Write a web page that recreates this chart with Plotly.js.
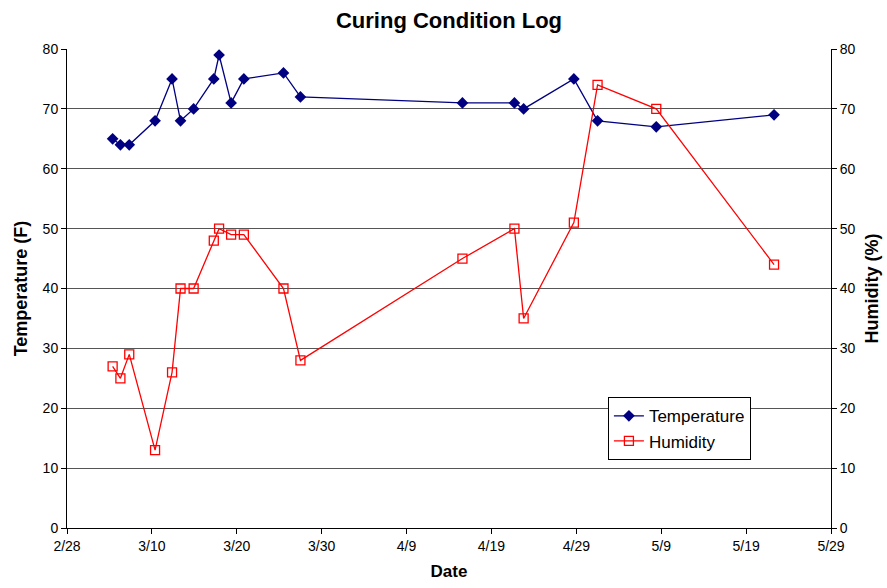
<!DOCTYPE html>
<html>
<head>
<meta charset="utf-8">
<script src="https://cdn.plot.ly/plotly-3.0.1.min.js"></script>
<style>html,body{margin:0;padding:0;background:#fff;}#chart{width:887px;height:588px;}</style>
</head>
<body>
<div id="chart"></div>
<script>
// Reading dates (with approximate time of day)
var dates = [
  '2007-03-05 09:00','2007-03-06 07:00','2007-03-07 08:00','2007-03-10 09:00',
  '2007-03-12 09:00','2007-03-13 09:00','2007-03-14 22:00','2007-03-17 07:00',
  '2007-03-17 22:00','2007-03-19 08:00','2007-03-20 20:00','2007-03-25 12:00',
  '2007-03-27 12:00','2007-04-15 14:00','2007-04-21 17:00','2007-04-22 19:00',
  '2007-04-28 17:00','2007-05-01 12:00','2007-05-08 10:00','2007-05-22 07:00'
];
var temperature = [65,64,64,68,75,68,70,75,79,71,75,76,72,71,71,70,75,68,67,69];
var humidity    = [27,25,29,13,26,40,40,48,50,49,49,40,28,45,50,35,51,74,70,44];

var tickDates = ['2007-02-28','2007-03-10','2007-03-20','2007-03-30','2007-04-09',
                 '2007-04-19','2007-04-29','2007-05-09','2007-05-19','2007-05-29'];
var tickLabels = ['2/28','3/10','3/20','3/30','4/9','4/19','4/29','5/9','5/19','5/29'];

var font = 'Arial, "Liberation Sans", sans-serif';

var traces = [
  {
    x: dates, y: temperature, name: 'Temperature', type: 'scatter', mode: 'lines+markers',
    line: {color: '#000080', width: 1.3},
    marker: {symbol: 'diamond', size: 9, color: '#000080', line: {color: '#000080', width: 0}},
    yaxis: 'y'
  },
  {
    x: dates, y: humidity, name: 'Humidity', type: 'scatter', mode: 'lines+markers',
    line: {color: '#ff0000', width: 1.3},
    marker: {symbol: 'square-open', size: 9, color: '#ff0000', line: {color: '#ff0000', width: 1.3}},
    yaxis: 'y2'
  }
];

var layout = {
  width: 887, height: 588,
  margin: {l: 67, r: 56, t: 49, b: 60},
  paper_bgcolor: '#fff', plot_bgcolor: '#fff',
  font: {family: font, size: 14, color: '#000'},
  title: {text: '<b>Curing Condition Log</b>', font: {family: font, size: 22, color: '#000'},
          x: 0.5, xref: 'paper', y: 0.966, yanchor: 'middle'},
  xaxis: {
    type: 'date', range: ['2007-02-28', '2007-05-29'],
    tickmode: 'array', tickvals: tickDates, ticktext: tickLabels,
    ticks: 'outside', ticklen: 5, tickcolor: '#000', tickwidth: 1,
    showline: true, linecolor: '#000', linewidth: 1, showgrid: false, zeroline: false,
    tickfont: {family: font, size: 14},
    title: {text: '<b>Date</b>', font: {family: font, size: 17}, standoff: 12}
  },
  yaxis: {
    range: [0, 80], dtick: 10, tick0: 0,
    ticks: 'outside', ticklen: 5, tickcolor: '#000',
    showline: true, linecolor: '#000', linewidth: 1,
    showgrid: true, gridcolor: '#555', gridwidth: 1, zeroline: false,
    tickfont: {family: font, size: 14},
    title: {text: '<b>Temperature (F)</b>', font: {family: font, size: 18}, standoff: 10}
  },
  yaxis2: {
    range: [0, 80], dtick: 10, tick0: 0, overlaying: 'y', side: 'right',
    ticks: 'outside', ticklen: 5, tickcolor: '#000',
    showline: true, linecolor: '#000', linewidth: 1,
    showgrid: false, zeroline: false,
    tickfont: {family: font, size: 14},
    title: {text: '<b>Humidity (%)</b>', font: {family: font, size: 18}, standoff: 10}
  },
  legend: {
    x: 0.708, y: 0.273, xanchor: 'left', yanchor: 'top',
    bgcolor: '#fff', bordercolor: '#000', borderwidth: 1,
    font: {family: font, size: 17}, tracegroupgap: 0
  },
  showlegend: true
};

Plotly.newPlot('chart', traces, layout, {displayModeBar: false, staticPlot: true});
</script>
</body>
</html>
